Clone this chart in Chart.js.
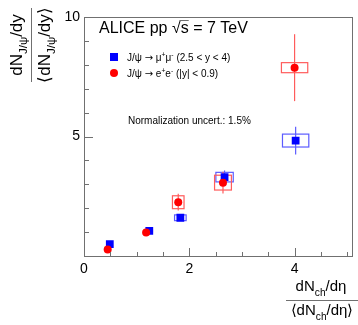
<!DOCTYPE html>
<html>
<head>
<meta charset="utf-8">
<script src="https://cdn.jsdelivr.net/npm/chart.js@4.4.1/dist/chart.umd.min.js"></script>
<style>
  html, body { margin: 0; padding: 0; background: #fff; }
  canvas { display: block; }
</style>
</head>
<body>
<canvas id="c" width="358" height="325"></canvas>
<script>
// J/psi -> mu+mu- (2.5 < y < 4)
const xMuMu = [0.49, 1.24, 1.83, 2.67, 4.02]
const yMuMu = [0.50, 1.05, 1.60, 3.30, 4.83]
const statMuMu = [0.04, 0.05, 0.05, 0.28, 0.58]
const systXMuMu = [0.04, 0.06, 0.11, 0.165, 0.25]
const systYMuMu = [0.03, 0.04, 0.12, 0.20, 0.27]

// J/psi -> e+e- (|y| < 0.9)
const xEE = [0.45, 1.18, 1.79, 2.64, 4.00]
const yEE = [0.27, 0.98, 2.25, 3.07, 7.88]
const statEE = [0.05, 0.08, 0.35, 0.46, 1.40]
const systXEE = [0.03, 0.05, 0.11, 0.16, 0.25]
const systYEE = [0.03, 0.05, 0.27, 0.31, 0.21]

// axis ticks
const xTickLabels = [0, 2, 4]
const yTickLabels = [5, 10]
const xMinorStep = 0.5
const yMinorStep = 1

const FONT = '"Liberation Sans", Arial, Helvetica, sans-serif'
const SYMBOL_FONT = '"DejaVu Sans", sans-serif'
const BLUE = "#0000ff"
const RED = "#ff0000"

// parts: [text, mode, family] with mode "" | "sub" | "sup"
function partFont(part, size) {
  const [, mode, family] = part
  const s = mode ? size * 0.68 : size
  return `${s}px ${family || FONT}`
}

function richWidth(ctx, parts, size) {
  let w = 0
  parts.forEach((p) => {
    ctx.font = partFont(p, size)
    w += ctx.measureText(p[0]).width
  })
  return w
}

function drawRich(ctx, parts, x, y, size, align) {
  let cx = x
  if (align === "center") cx = x - richWidth(ctx, parts, size) / 2
  const pos = []
  parts.forEach((p) => {
    const [t, mode] = p
    let dy = 0
    if (mode === "sub") dy = size * 0.3
    if (mode === "sup") dy = -size * 0.38
    ctx.font = partFont(p, size)
    ctx.fillText(t, cx, y + dy)
    const w = ctx.measureText(t).width
    pos.push([cx, w])
    cx += w
  })
  return pos
}

// stat error bars and systematic boxes, drawn from the data via the scales
function drawErrors(ctx, xs, ys, stat, sx, sy, color, scales) {
  const { x, y } = scales
  ctx.save()
  ctx.strokeStyle = color
  ctx.lineWidth = 1.2
  xs.forEach((xv, i) => {
    const px = x.getPixelForValue(xv)
    ctx.beginPath()
    ctx.moveTo(px, y.getPixelForValue(ys[i] + stat[i]))
    ctx.lineTo(px, y.getPixelForValue(ys[i] - stat[i]))
    ctx.stroke()
    const l = x.getPixelForValue(xv - sx[i])
    const r = x.getPixelForValue(xv + sx[i])
    const t = y.getPixelForValue(ys[i] + sy[i])
    const b = y.getPixelForValue(ys[i] - sy[i])
    ctx.strokeRect(l, t, r - l, b - t)
  })
  ctx.restore()
}

const rootStyle = {
  id: "rootStyle",
  beforeDatasetsDraw(chart) {
    const ctx = chart.ctx
    drawErrors(ctx, xMuMu, yMuMu, statMuMu, systXMuMu, systYMuMu, "#5c5cff", chart.scales)
    drawErrors(ctx, xEE, yEE, statEE, systXEE, systYEE, "#ff5c5c", chart.scales)
  },
  afterDraw(chart) {
    const ctx = chart.ctx
    const a = chart.chartArea
    const xs = chart.scales.x
    const ys = chart.scales.y
    ctx.save()

    // frame
    ctx.strokeStyle = "#707070"
    ctx.lineWidth = 1
    ctx.strokeRect(Math.round(a.left) + 0.5, Math.round(a.top) + 0.5, Math.round(a.right - a.left) - 1, Math.round(a.bottom - a.top))

    // ticks pointing inside
    ctx.beginPath()
    for (let v = xs.min; v <= xs.max + 1e-9; v += xMinorStep) {
      const px = Math.round(xs.getPixelForValue(v)) + 0.5
      const len = xTickLabels.includes(Math.round(v * 100) / 100) ? 8 : 4
      ctx.moveTo(px, a.bottom)
      ctx.lineTo(px, a.bottom - len)
    }
    for (let v = ys.min; v <= ys.max + 1e-9; v += yMinorStep) {
      const py = Math.round(ys.getPixelForValue(v)) + 0.5
      const len = v % 5 === 0 ? 9 : 5
      ctx.moveTo(a.left, py)
      ctx.lineTo(a.left + len, py)
    }
    ctx.stroke()

    ctx.fillStyle = "#000"
    ctx.textBaseline = "alphabetic"
    ctx.textAlign = "left"

    // header
    const hp = drawRich(ctx, [["ALICE pp ", ""], ["\u221A", ""], ["s", ""], [" = 7 TeV", ""]], 99, 33, 16, "left")
    ctx.beginPath()
    ctx.lineWidth = 1
    ctx.moveTo(hp[1][0] + hp[1][1] - 1, 20.5)
    ctx.lineTo(hp[2][0] + hp[2][1], 20.5)
    ctx.stroke()

    // legend
    ctx.fillStyle = BLUE
    ctx.fillRect(110, 53, 8, 8)
    ctx.fillStyle = RED
    ctx.beginPath()
    ctx.arc(114, 73, 4, 0, Math.PI * 2)
    ctx.fill()
    ctx.fillStyle = "#000"
    drawRich(ctx, [["J/\u03C8 ", ""], ["\u2192", "", SYMBOL_FONT], [" \u03BC", ""], ["+", "sup"], ["\u03BC", ""], ["-", "sup"], [" (2.5 < y < 4)", ""]], 127, 61, 10, "left")
    drawRich(ctx, [["J/\u03C8 ", ""], ["\u2192", "", SYMBOL_FONT], [" e", ""], ["+", "sup"], ["e", ""], ["-", "sup"], [" (|y| < 0.9)", ""]], 127, 77, 10, "left")

    drawRich(ctx, [["Normalization uncert.: 1.5%", ""]], 128, 124, 10, "left")

    // x title (fraction)
    drawRich(ctx, [["dN", ""], ["ch", "sub"], ["/d\u03B7", ""]], 321, 291, 15, "center")
    ctx.beginPath()
    ctx.moveTo(286, 300.5)
    ctx.lineTo(358, 300.5)
    ctx.stroke()
    drawRich(ctx, [["\u27E8dN", ""], ["ch", "sub"], ["/d\u03B7\u27E9", ""]], 322, 315, 15, "center")

    // y title (fraction, rotated)
    ctx.save()
    ctx.translate(0, 45)
    ctx.rotate(-Math.PI / 2)
    drawRich(ctx, [["dN", ""], ["J/\u03C8", "sub"], ["/dy", ""]], 0, 22, 17, "center")
    ctx.beginPath()
    ctx.moveTo(-37, 31.5)
    ctx.lineTo(37, 31.5)
    ctx.stroke()
    drawRich(ctx, [["\u27E8dN", ""], ["J/\u03C8", "sub"], ["/dy\u27E9", ""]], 0, 50, 17, "center")
    ctx.restore()

    ctx.restore()
  },
}

const toPoints = (xs, ys) => xs.map((x, i) => ({ x, y: ys[i] }))

new Chart(document.getElementById("c"), {
  type: "scatter",
  data: {
    datasets: [
      {
        label: "J/\u03C8 \u2192 e+e- (|y| < 0.9)",
        data: toPoints(xEE, yEE),
        pointStyle: "circle",
        pointRadius: 4,
        backgroundColor: RED,
        borderColor: RED,
        borderWidth: 0,
        order: 1,
      },
      {
        label: "J/\u03C8 \u2192 \u03BC+\u03BC- (2.5 < y < 4)",
        data: toPoints(xMuMu, yMuMu),
        pointStyle: "rect",
        pointRadius: 5.5,
        backgroundColor: BLUE,
        borderColor: BLUE,
        borderWidth: 0,
        order: 2,
      },
    ],
  },
  options: {
    responsive: false,
    animation: false,
    events: [],
    layout: { padding: { top: 17, right: 1, left: 0, bottom: 0 } },
    plugins: { legend: { display: false }, tooltip: { enabled: false } },
    scales: {
      x: {
        type: "linear",
        min: 0,
        max: 5.1,
        grid: { display: false, drawTicks: false },
        border: { display: false },
        ticks: { color: "#000", font: { size: 14, family: FONT }, padding: 5 },
        afterBuildTicks: (s) => { s.ticks = xTickLabels.map((v) => ({ value: v })) },
        afterFit: (s) => { s.height = 69 },
      },
      y: {
        type: "linear",
        min: 0,
        max: 10,
        grid: { display: false, drawTicks: false },
        border: { display: false },
        ticks: { color: "#000", font: { size: 14, family: FONT }, padding: 4 },
        afterBuildTicks: (s) => { s.ticks = yTickLabels.map((v) => ({ value: v })) },
        afterFit: (s) => { s.width = 84 },
      },
    },
  },
  plugins: [rootStyle],
})
</script>
</body>
</html>
